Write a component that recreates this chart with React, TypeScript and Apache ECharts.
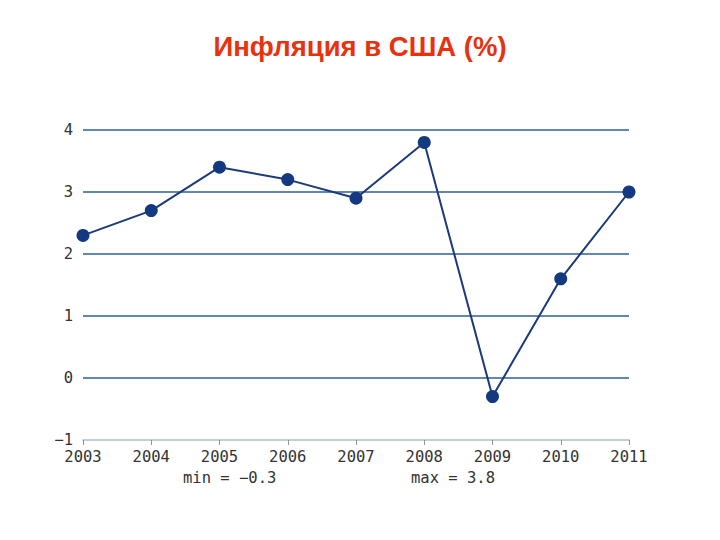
import React, { useEffect, useRef } from "react";
import * as echarts from "echarts";

const years = ["2003", "2004", "2005", "2006", "2007", "2008", "2009", "2010", "2011"];
const inflation = [2.3, 2.7, 3.4, 3.2, 2.9, 3.8, -0.3, 1.6, 3.0];
const titleText = "Инфляция в США (%)";
const minText = "min = −0.3";
const maxText = "max = 3.8";

export default function App() {
  const ref = useRef<HTMLDivElement>(null);
  useEffect(() => {
    if (!ref.current) return;
    const chart = echarts.init(ref.current, null, { renderer: "svg" });
    const mono = "DejaVu Sans Mono";
    chart.setOption({
      animation: false,
      backgroundColor: "#ffffff",
      title: {
        text: titleText,
        left: "center",
        top: 27,
        textStyle: { color: "#e8320e", fontFamily: "Liberation Sans", fontWeight: "bold", fontSize: 27.5 },
      },
      grid: { left: 83, right: 91, top: 130, bottom: 100 },
      xAxis: {
        type: "category",
        data: years,
        boundaryGap: false,
        axisLine: { show: true, onZero: false, lineStyle: { color: "#c4ccd4", width: 2 } },
        axisTick: { show: true, length: 5, lineStyle: { color: "#8a929a" } },
        axisLabel: { color: "#333", fontFamily: mono, fontSize: 15.5, margin: 9 },
        z: 5,
      },
      yAxis: {
        type: "value",
        min: -1,
        max: 4,
        interval: 1,
        axisLine: { show: false },
        axisTick: { show: false },
        axisLabel: {
          color: "#333",
          fontFamily: mono,
          fontSize: 15.5,
          margin: 10,
          formatter: (v: number) => String(v).replace("-", "−"),
        },
        splitLine: { lineStyle: { color: "#2f5f9a", width: 1.5 } },
      },
      graphic: [
        { type: "text", left: 183, top: 470, style: { text: minText, fill: "#333", font: `15.5px ${mono}` } },
        { type: "text", left: 411, top: 470, style: { text: maxText, fill: "#333", font: `15.5px ${mono}` } },
      ],
      series: [
        {
          type: "line",
          data: inflation,
          symbol: "circle",
          symbolSize: 13,
          lineStyle: { color: "#1b3a78", width: 2 },
          itemStyle: { color: "#133a80" },
          z: 10,
        },
      ],
    });
    return () => chart.dispose();
  }, []);
  return <div ref={ref} style={{ width: 720, height: 540, position: "absolute", left: 0, top: 0 }} />;
}
